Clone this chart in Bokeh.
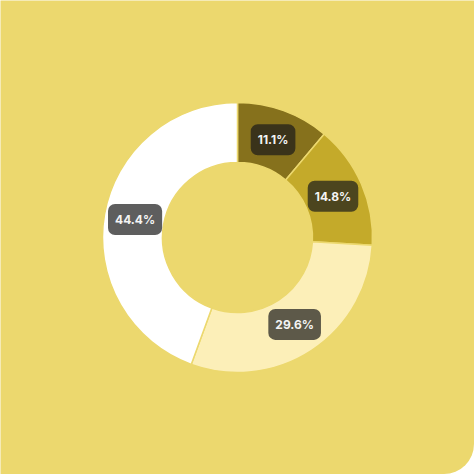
import math
from bokeh.plotting import figure
from bokeh.models import ColumnDataSource
from bokeh.core.properties import value
from bokeh.embed import file_html
from bokeh.resources import INLINE

# Data
categories = ["A", "B", "C", "D"]
values = [3, 4, 8, 12]
colors = ["#86711c", "#c4aa2a", "#fcefb8", "#ffffff"]

BG = "#ecd86e"
total = sum(values)
starts, ends, lx, ly, labels = [], [], [], [], []
acc = 0
for v in values:
    a0 = math.pi / 2 - 2 * math.pi * acc / total
    acc += v
    a1 = math.pi / 2 - 2 * math.pi * acc / total
    starts.append(a0)
    ends.append(a1)
    mid = (a0 + a1) / 2
    lx.append(104 * math.cos(mid))
    ly.append(104 * math.sin(mid))
    labels.append(f"{100 * v / total:.1f}%")

src = ColumnDataSource(dict(cat=categories, val=values, color=colors,
                            start=starts, end=ends, lx=lx, ly=ly, label=labels))

p = figure(width=474, height=474, x_range=(-237, 237), y_range=(-237, 237),
           output_backend="svg", toolbar_location=None, min_border=0,
           background_fill_color=BG, border_fill_color=BG)
p.axis.visible = False
p.grid.visible = False
p.outline_line_color = None
p.styles = {"border-bottom-right-radius": "30px", "overflow": "hidden"}

p.annular_wedge(x=0, y=0, inner_radius=75, outer_radius=135,
                start_angle="start", end_angle="end", direction="clock",
                fill_color="color", line_color=BG, line_width=1.5, source=src)

p.text(x="lx", y="ly", text="label", source=src,
       text_align="center", text_baseline="middle",
       text_font=value("Inter"), text_font_size="12px", text_font_style="bold",
       text_color="#f4f4f4",
       background_fill_color="#1a1a1a", background_fill_alpha=0.7,
       border_radius=7, padding=[7, 8])

html = file_html(p, INLINE)
html = html.replace("</head>", "<style>body{margin:0;background:#ffffff}</style></head>", 1)
open("out.html", "w").write(html)
